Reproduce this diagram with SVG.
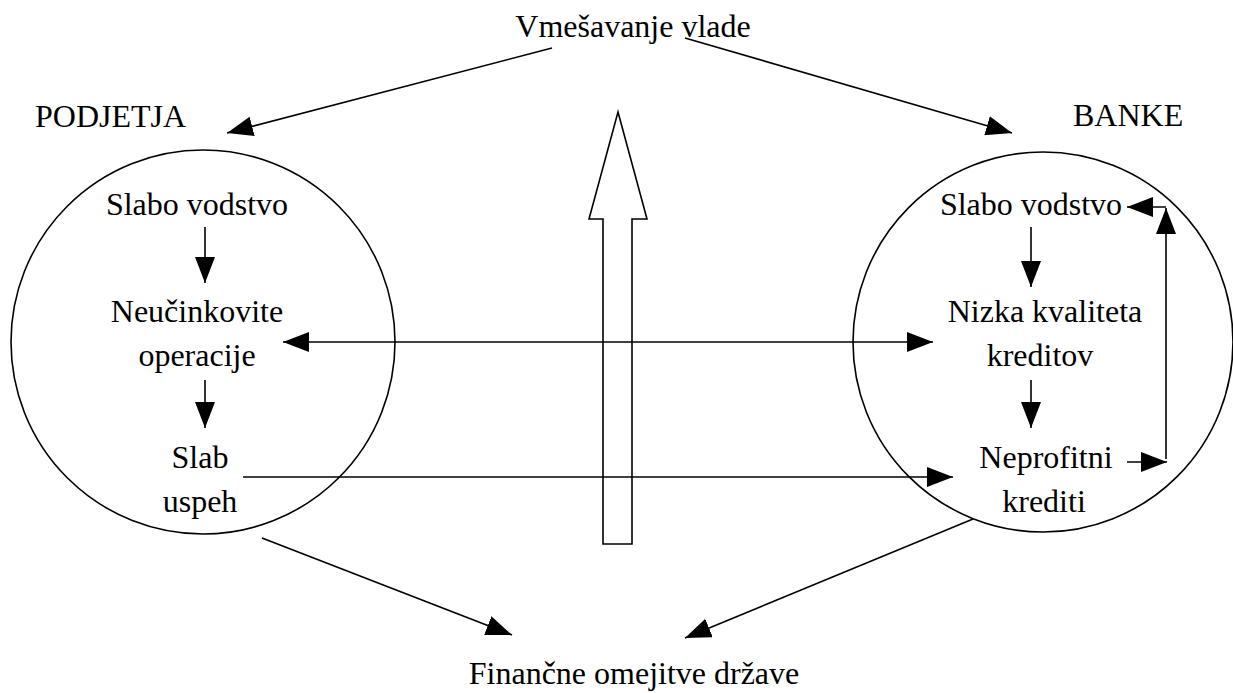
<svg xmlns="http://www.w3.org/2000/svg" width="1233" height="693" viewBox="0 0 1233 693">
<style>
text{font-family:"Liberation Serif","Times New Roman",Times,serif;font-size:32px;fill:#000}
.c{text-anchor:middle}
.ln{stroke:#000;stroke-width:1.6;fill:none}
.circ{stroke:#000;stroke-width:1.6;fill:none}
</style>
<defs>
<marker id="ah" markerUnits="userSpaceOnUse" markerWidth="26" markerHeight="20" refX="26" refY="10" orient="auto-start-reverse" viewBox="0 0 26 20">
<path d="M0,0 L26,10 L0,20 z" fill="#000"/>
</marker>
</defs>
<rect width="1233" height="693" fill="#fff"/>
<g id="podjetja" font-family="Liberation Serif, serif">
<circle class="circ" cx="203" cy="342" r="192"/>
<text x="35" y="127">PODJETJA</text>
<text class="c" x="197" y="215">Slabo vodstvo</text>
<text class="c" x="197" y="322">Neučinkovite</text>
<text class="c" x="197" y="366">operacije</text>
<text class="c" x="200" y="468">Slab</text>
<text class="c" x="200" y="512">uspeh</text>
</g>
<g id="banke">
<circle class="circ" cx="1043" cy="342" r="190"/>
<text x="1073" y="126">BANKE</text>
<text class="c" x="1031" y="215">Slabo vodstvo</text>
<text class="c" x="1045" y="322">Nizka kvaliteta</text>
<text class="c" x="1040" y="366">kreditov</text>
<text class="c" x="1046" y="468">Neprofitni</text>
<text class="c" x="1044" y="512">krediti</text>
</g>
<g id="vlada">
<text class="c" x="633" y="37">Vmešavanje vlade</text>
</g>
<g id="drzava">
<text class="c" x="634" y="684">Finančne omejitve države</text>
</g>
<g id="big-arrow">
<polygon class="ln" fill="#fff" points="618,112 647,219 632,219 632,544 603,544 603,219 589,219"/>
</g>
<g id="connectors" class="ln">
<line x1="552" y1="48" x2="227" y2="133" marker-end="url(#ah)"/>
<line x1="685" y1="38" x2="1012" y2="133" marker-end="url(#ah)"/>
<line x1="205" y1="227" x2="205" y2="283" marker-end="url(#ah)"/>
<line x1="205" y1="380" x2="205" y2="428" marker-end="url(#ah)"/>
<line x1="283" y1="342" x2="933" y2="342" marker-start="url(#ah)" marker-end="url(#ah)"/>
<line x1="243" y1="477" x2="953" y2="477" marker-end="url(#ah)"/>
<line x1="1031" y1="227" x2="1031" y2="287" marker-end="url(#ah)"/>
<line x1="1031" y1="380" x2="1031" y2="428" marker-end="url(#ah)"/>
<line x1="1127" y1="462" x2="1167" y2="462" marker-end="url(#ah)"/>
<line x1="1166" y1="459" x2="1166" y2="208" marker-end="url(#ah)"/>
<line x1="1166" y1="207" x2="1127" y2="207" marker-end="url(#ah)"/>
<line x1="262" y1="538" x2="512" y2="635" marker-end="url(#ah)"/>
<line x1="973" y1="519" x2="685" y2="638" marker-end="url(#ah)"/>
</g>
</svg>
